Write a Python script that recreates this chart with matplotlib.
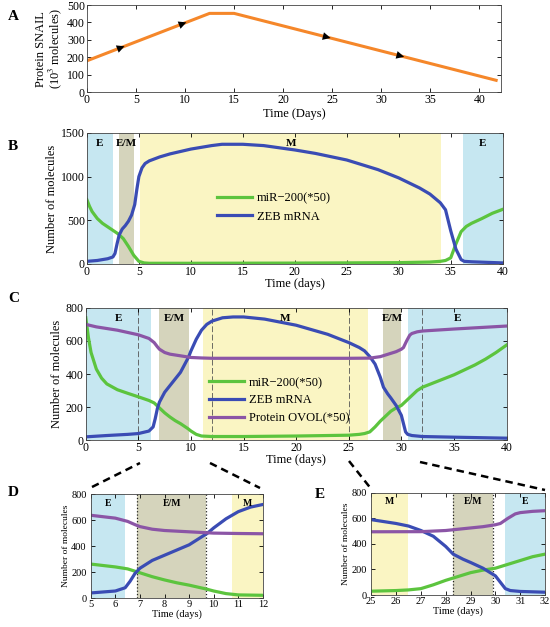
import numpy as np
import matplotlib.pyplot as plt
from matplotlib.lines import Line2D

plt.rcParams['font.family'] = ['Liberation Serif', 'DejaVu Serif']
plt.rcParams['mathtext.fontset'] = 'stix'

# ---- data ----
# panel A: SNAIL protein (10^3 molecules)
snail_t = [0, 12.5, 15, 41.7]
snail_v = [180, 452, 452, 68]
snail_arrows = [3.5, 9.8, 24.5, 32.0]

# panel B
b_mir_t = [0, 0.25, 0.5, 1, 1.5, 2, 2.5, 3, 3.5, 4, 4.5, 5, 5.5, 6, 10, 20, 30, 33, 34, 34.5, 35,
           35.5, 36, 36.5, 37, 38, 39, 40]
b_mir_v = [735, 660, 600, 520, 465, 425, 385, 345, 290, 200, 100, 30, 12, 8, 8, 10, 15, 22, 30, 40,
           70, 230, 370, 430, 465, 520, 580, 625]
b_zeb_t = [0, 1, 2, 2.5, 2.7, 2.9, 3.1, 3.4, 3.7, 4, 4.3, 4.6, 4.8, 5, 5.3, 5.6, 6, 7, 8, 10, 12, 13,
           15, 17, 20, 22, 25, 28, 30, 32, 33, 34, 34.5, 35, 35.5, 36, 36.3, 37, 40]
b_zeb_v = [30, 40, 60, 80, 120, 230, 330, 400, 440, 490, 560, 680, 850, 1000, 1100, 1150, 1180,
           1225, 1260, 1315, 1355, 1370, 1370, 1355, 1305, 1265, 1190, 1080, 985, 870, 800, 700,
           620, 380, 170, 50, 30, 25, 12]

# panel C (also shown zoomed in D and E)
c_mir_t = [0, 0.25, 0.5, 1, 1.5, 2, 3, 4, 5, 6, 6.5, 7, 7.5, 8, 8.5, 9, 9.7, 10, 10.5, 11, 12, 15, 20,
           25, 26, 26.5, 27, 27.5, 28, 28.5, 29, 29.5, 30, 30.5, 31, 31.5, 32, 33, 34, 35, 36, 37,
           38, 39, 40]
c_mir_v = [740, 620, 530, 430, 375, 340, 305, 283, 262, 240, 225, 195, 165, 140, 118, 100, 70, 55,
           35, 25, 22, 22, 25, 30, 35, 40, 50, 80, 115, 145, 175, 195, 210, 240, 270, 300, 320,
           345, 370, 395, 425, 455, 490, 530, 575]
c_zeb_t = [0, 2, 4, 5, 6, 6.4, 6.6, 6.8, 7, 7.5, 8, 8.5, 9, 9.5, 9.75, 10, 10.5, 11, 11.5, 12, 13, 14,
           15, 17, 20, 23, 25, 26, 26.5, 27, 27.5, 28, 28.3, 28.7, 29, 29.5, 30, 30.2, 30.4, 30.6,
           31, 32, 35, 40]
c_zeb_v = [20, 28, 35, 40, 55, 80, 130, 190, 230, 290, 330, 370, 410, 470, 500, 540, 610, 665, 700,
           720, 740, 745, 745, 732, 695, 640, 590, 560, 540, 505, 460, 380, 320, 280, 255, 210,
           150, 100, 50, 35, 28, 22, 18, 12]
c_ovol_t = [0, 1, 3, 5, 6, 6.5, 6.8, 7, 7.5, 8, 9, 10, 11, 12, 15, 20, 25, 27, 28, 29, 29.5, 30, 30.2,
            30.5, 30.8, 31, 31.5, 32, 35, 40]
c_ovol_v = [700, 685, 665, 637, 615, 590, 565, 550, 530, 520, 510, 500, 497, 495, 495, 495, 495, 496,
            505, 525, 535, 550, 560, 600, 635, 645, 655, 660, 672, 690]

# phase bands: (start, end, phase)
b_bands = [(0, 2.5, 'E'), (3.1, 4.5, 'E/M'), (5.1, 34.1, 'M'), (36.2, 40, 'E')]
c_bands = [(0, 6.2, 'E'), (7.0, 9.8, 'E/M'), (11.1, 26.8, 'M'), (28.3, 30.0, 'E/M'), (30.6, 40, 'E')]
d_bands = [(5, 6.4, 'E'), (6.9, 9.7, 'E/M'), (10.75, 12, 'M')]
e_bands = [(25, 26.5, 'M'), (28.3, 29.9, 'E/M'), (30.4, 32, 'E')]
zoom_marks = [5, 12, 25, 32]

band_col = {'E': '#c6e7f1', 'E/M': '#d5d4bc', 'M': '#faf5c3'}
c_orange = '#f5872a'
c_green = '#5cc43e'
c_blue = '#3a4cb4'
c_purple = '#8b55a6'

fig = plt.figure(figsize=(5.5, 6.27), dpi=100)


def style(ax, fs=8.5, ypad=1.5):
    ax.tick_params(direction='in', top=True, right=True, labelsize=fs, length=3, width=0.6, pad=1.5)
    ax.tick_params(axis='y', pad=ypad)
    for s in ax.spines.values():
        s.set_linewidth(0.6)
        s.set_color('#444444')


def bands(ax, blist, ymax, fs=8, dotted=False):
    for a, b, ph in blist:
        ax.axvspan(a, b, color=band_col[ph], lw=0, zorder=0)
        ax.text((a + b) / 2, ymax * 0.955, ph, ha='center', va='top', fontsize=fs,
                fontweight='bold', zorder=5)
        if dotted and ph == 'E/M':
            for xx in (a, b):
                ax.axvline(xx, color='#222222', ls=':', lw=0.9, zorder=1)


# ---- A ----
axA = fig.add_axes([0.158, 0.853, 0.753, 0.139])
axA.plot(snail_t, snail_v, color=c_orange, lw=2.2)
for xa in snail_arrows:
    ya = np.interp(xa, snail_t, snail_v)
    yb = np.interp(xa + 0.6, snail_t, snail_v)
    axA.annotate('', xy=(xa + 0.6, yb), xytext=(xa, ya),
                 arrowprops=dict(arrowstyle='-|>', color='k', lw=0, mutation_scale=14))
axA.set_xlim(0, 42.2)
axA.set_ylim(0, 500)
axA.set_xticks(range(0, 41, 5))
axA.set_yticks(range(0, 501, 100))
axA.set_xlabel('Time (Days)', fontsize=9, labelpad=1.5)
axA.set_ylabel('Protein SNAIL\n(10$^3$ molecules)', fontsize=9, labelpad=2, linespacing=1.0)
style(axA)

# ---- B ----
axB = fig.add_axes([0.158, 0.579, 0.756, 0.209])
bands(axB, b_bands, 1500)
axB.plot(b_mir_t, b_mir_v, color=c_green, lw=2.3, label='miR\u2212200(*50)')
axB.plot(b_zeb_t, b_zeb_v, color=c_blue, lw=2.3, label='ZEB mRNA')
axB.set_xlim(0, 40)
axB.set_ylim(0, 1500)
axB.set_yticks([0, 500, 1000, 1500])
axB.set_xlabel('Time (days)', fontsize=9, labelpad=0)
axB.set_ylabel('Number of molecules', fontsize=9, labelpad=2)
axB.legend(loc='center', bbox_to_anchor=(0.45, 0.43), frameon=False, fontsize=9,
           handlelength=2.8, borderaxespad=0, labelspacing=0.5, handletextpad=0.4)
style(axB)

# ---- C ----
axC = fig.add_axes([0.156, 0.298, 0.765, 0.211])
bands(axC, c_bands, 800)
for xm in zoom_marks:
    axC.axvline(xm, color='#555555', ls=(0, (7, 3)), lw=0.6, zorder=1)
axC.plot(c_mir_t, c_mir_v, color=c_green, lw=2.3, label='miR\u2212200(*50)')
axC.plot(c_zeb_t, c_zeb_v, color=c_blue, lw=2.3, label='ZEB mRNA')
axC.plot(c_ovol_t, c_ovol_v, color=c_purple, lw=2.3, label='Protein OVOL(*50)')
axC.set_xlim(0, 40)
axC.set_ylim(0, 800)
axC.set_yticks(range(0, 801, 200))
axC.set_xlabel('Time (days)', fontsize=9, labelpad=0)
axC.set_ylabel('Number of molecules', fontsize=9, labelpad=2)
axC.legend(loc='center', bbox_to_anchor=(0.46, 0.30), frameon=False, fontsize=9,
           handlelength=2.8, borderaxespad=0, labelspacing=0.45, handletextpad=0.4)
style(axC)

# ---- D and E (zooms of C) ----
for rect, blist, lim in [([0.165, 0.046, 0.313, 0.166], d_bands, (5, 12)),
                         ([0.675, 0.051, 0.316, 0.163], e_bands, (25, 32))]:
    ax = fig.add_axes(rect)
    bands(ax, blist, 800, fs=7, dotted=True)
    ax.plot(c_mir_t, c_mir_v, color=c_green, lw=2.3)
    ax.plot(c_zeb_t, c_zeb_v, color=c_blue, lw=2.3)
    ax.plot(c_ovol_t, c_ovol_v, color=c_purple, lw=2.3)
    ax.set_xlim(*lim)
    ax.set_ylim(0, 800)
    ax.set_xticks(range(lim[0], lim[1] + 1))
    ax.set_yticks(range(0, 801, 200))
    ax.set_xlabel('Time (days)', fontsize=7.5, labelpad=0)
    ax.set_ylabel('Number of molecules', fontsize=6.8, labelpad=1)
    style(ax, fs=7.5, ypad=3)

# dashed connectors from C to the zoom panels (pixel coords)
W, H = 550, 627
for (x0, y0), (x1, y1) in [((92, 487), (140, 463)), ((210, 463), (260, 488)),
                           ((349, 461), (372, 490)), ((420, 462), (545, 490))]:
    fig.add_artist(Line2D([x0 / W, x1 / W], [1 - y0 / H, 1 - y1 / H], color='k', lw=1.8,
                          ls=(0, (3, 2))))

# panel letters
for lab, px, py in [('A', 8, 17), ('B', 8, 147), ('C', 8, 298), ('D', 8, 493), ('E', 315, 495)]:
    fig.text(px / W, 1 - py / H, lab, fontsize=11, fontweight='bold', ha='left', va='center')

fig.savefig('out.png', dpi=100)
